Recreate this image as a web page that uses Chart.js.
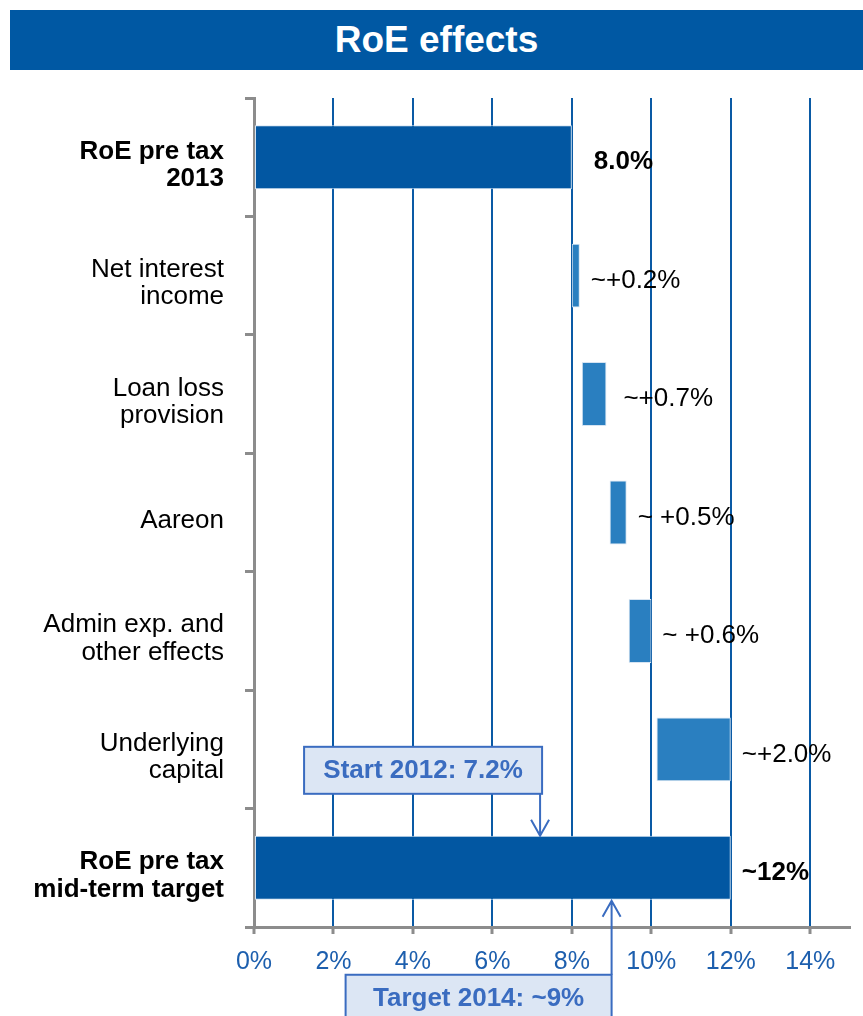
<!DOCTYPE html>
<html>
<head>
<meta charset="utf-8">
<title>RoE effects</title>
<script src="https://cdn.jsdelivr.net/npm/chart.js@4"></script>
<style>
  body { margin: 0; background: #fff; }
  #wrap { position: relative; width: 863px; height: 1016px; overflow: hidden; }
  #title { position: absolute; left: 10px; top: 10px; width: 853px; height: 60px; background: #0058a3; color: #fff;
           font: bold 37px 'Liberation Sans', Arial, sans-serif; text-align: center; line-height: 60px; }
  canvas { position: absolute; left: 0; top: 0; }
</style>
</head>
<body>
<div id="wrap">
  <canvas id="chart" width="863" height="1016"></canvas>
  <div id="title">RoE effects</div>
</div>
<script>
// chart data
const categories = [
  ['RoE pre tax', '2013'],
  ['Net interest', 'income'],
  ['Loan loss', 'provision'],
  ['Aareon'],
  ['Admin exp. and', 'other effects'],
  ['Underlying', 'capital'],
  ['RoE pre tax', 'mid-term target']
];
const barStart = [0, 8.0, 8.25, 8.95, 9.43, 10.13, 0];
const barEnd = [8.0, 8.2, 8.87, 9.38, 10.0, 12.0, 12.0];
const valueLabels = ['8.0%', '~+0.2%', '~+0.7%', '~ +0.5%', '~ +0.6%', '~+2.0%', '~12%'];
const totalRows = [0, 6];
const xTicks = [0, 2, 4, 6, 8, 10, 12, 14];
const annoLabels = ['Start 2012: 7.2%', 'Target 2014: ~9%'];
const annoValues = [7.2, 9];

const FONT = "'Liberation Sans', Arial, sans-serif";
const DARK = '#0257a2';
const LIGHT = '#2a7fc0';
const GREY = '#8c8c8c';
const ANNO = '#3a6cc0';

function arrow(ctx, x, from, to) {
  const dir = to > from ? 1 : -1;
  ctx.beginPath();
  ctx.moveTo(x, from);
  ctx.lineTo(x, to);
  ctx.moveTo(x - 9, to - dir * 16);
  ctx.lineTo(x, to);
  ctx.lineTo(x + 9, to - dir * 16);
  ctx.stroke();
}

function box(ctx, left, top, w, h, text) {
  ctx.fillStyle = '#dce6f4';
  ctx.fillRect(left, top, w, h);
  ctx.strokeRect(left, top, w, h);
  ctx.fillStyle = ANNO;
  ctx.font = 'bold 26px ' + FONT;
  ctx.textAlign = 'center';
  ctx.textBaseline = 'middle';
  ctx.fillText(text, left + w / 2, top + 24);
}

const labelPlugin = {
  id: 'roeLabels',
  afterDraw(chart) {
    const ctx = chart.ctx;
    const xs = chart.scales.x, ys = chart.scales.y;
    ctx.save();
    ctx.fillStyle = '#000';
    ctx.textBaseline = 'middle';
    ctx.textAlign = 'left';
    valueLabels.forEach((t, i) => {
      const bold = totalRows.includes(i);
      ctx.font = (bold ? 'bold ' : '') + '26px ' + FONT;
      const gap = i === 0 ? 22 : (i === 2 ? 17 : 11);
      ctx.fillText(t, xs.getPixelForValue(barEnd[i]) + gap, ys.getPixelForValue(i) + 5);
    });

    // annotation boxes with arrows onto the last bar
    const last = chart.getDatasetMeta(0).data[6];
    const barTop = last.y - last.height / 2;
    const barBottom = last.y + last.height / 2;
    ctx.strokeStyle = ANNO;
    ctx.lineWidth = 2;

    let ax = xs.getPixelForValue(annoValues[0]);
    const b1 = barTop - 42;
    arrow(ctx, ax, b1, barTop);
    box(ctx, ax - 236, b1 - 47, 238, 47, annoLabels[0]);

    ax = xs.getPixelForValue(annoValues[1]);
    const t2 = barBottom + 75;
    arrow(ctx, ax, t2, barBottom + 1);
    box(ctx, ax - 266, t2, 266, 60, annoLabels[1]);
    ctx.restore();
  }
};

new Chart(document.getElementById('chart'), {
  type: 'bar',
  data: {
    labels: categories,
    datasets: [{
      data: barStart.map((s, i) => [s, barEnd[i]]),
      backgroundColor: barStart.map((_, i) => totalRows.includes(i) ? DARK : LIGHT),
      borderColor: '#d6e4f2',
      borderWidth: 1,
      borderSkipped: false,
      barPercentage: 0.54,
      categoryPercentage: 1
    }]
  },
  options: {
    indexAxis: 'y',
    responsive: false,
    animation: false,
    layout: { padding: { top: 98, right: 13, left: 0, bottom: 0 } },
    plugins: { legend: { display: false }, tooltip: { enabled: false } },
    scales: {
      x: {
        min: 0,
        max: 15,
        afterBuildTicks: s => { s.ticks = xTicks.map(v => ({ value: v })); },
        grid: {
          color: c => (c.tick && c.tick.value === 0) ? 'rgba(0,0,0,0)' : '#0a5aa5',
          lineWidth: 2,
          tickColor: GREY,
          tickWidth: 3,
          tickLength: 7
        },
        border: { color: GREY, width: 3 },
        ticks: {
          color: '#1d5fae',
          font: { size: 25, family: FONT },
          padding: 13,
          maxRotation: 0,
          autoSkip: false,
          callback: v => v + '%'
        },
        afterFit: s => { s.height = 89; }
      },
      y: {
        grid: { drawOnChartArea: false, tickLength: 9, color: GREY, lineWidth: 3, offset: true },
        border: { color: GREY, width: 3 },
        ticks: {
          color: '#000',
          padding: 21,
          labelOffset: 8,
          autoSkip: false,
          font: c => ({ size: 26, family: FONT, lineHeight: 1.05, weight: totalRows.includes(c.index) ? 'bold' : 'normal' })
        },
        afterFit: s => { s.width = 254; }
      }
    }
  },
  plugins: [labelPlugin]
});
</script>
</body>
</html>
